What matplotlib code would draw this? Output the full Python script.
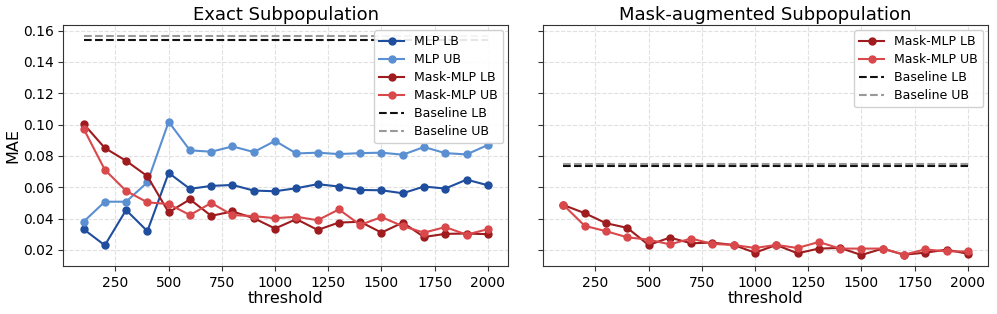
import matplotlib
matplotlib.use("Agg")
import matplotlib.pyplot as plt

thresholds = list(range(100, 2001, 100))

exact_mlp_lb = [0.0333, 0.0230, 0.0455, 0.0320, 0.0692, 0.0590, 0.0609, 0.0615, 0.0579, 0.0575,
                0.0594, 0.0620, 0.0605, 0.0583, 0.0581, 0.0562, 0.0605, 0.0592, 0.0649, 0.0613]
exact_mlp_ub = [0.0380, 0.0508, 0.0508, 0.0632, 0.1018, 0.0836, 0.0827, 0.0861, 0.0825, 0.0896,
                0.0816, 0.0821, 0.0812, 0.0818, 0.0821, 0.0808, 0.0857, 0.0818, 0.0810, 0.0870]
exact_mask_lb = [0.1005, 0.0851, 0.0769, 0.0671, 0.0440, 0.0523, 0.0418, 0.0446, 0.0403, 0.0337,
                 0.0397, 0.0328, 0.0375, 0.0380, 0.0311, 0.0375, 0.0283, 0.0303, 0.0305, 0.0301]
exact_mask_ub = [0.0975, 0.0712, 0.0577, 0.0504, 0.0493, 0.0423, 0.0500, 0.0423, 0.0416, 0.0403,
                 0.0412, 0.0390, 0.0459, 0.0360, 0.0410, 0.0352, 0.0311, 0.0346, 0.0298, 0.0333]
exact_base_lb = 0.1542
exact_base_ub = 0.1565

aug_mask_lb = [0.0487, 0.0435, 0.0371, 0.0341, 0.0232, 0.0279, 0.0243, 0.0247, 0.0232, 0.0183,
               0.0232, 0.0179, 0.0209, 0.0213, 0.0168, 0.0209, 0.0170, 0.0183, 0.0202, 0.0176]
aug_mask_ub = [0.0487, 0.0354, 0.0320, 0.0281, 0.0266, 0.0236, 0.0273, 0.0239, 0.0232, 0.0213,
               0.0232, 0.0213, 0.0251, 0.0209, 0.0209, 0.0209, 0.0170, 0.0204, 0.0191, 0.0191]
aug_base_lb = 0.0735
aug_base_ub = 0.0750

c_mlp_lb = "#1f4e9e"
c_mlp_ub = "#5a8fd2"
c_mask_lb = "#9e1b1e"
c_mask_ub = "#d9484b"

fig, axes = plt.subplots(1, 2, figsize=(9.97, 3.14), dpi=100, sharey=True)
fig.subplots_adjust(left=0.0635, right=0.991, bottom=0.153, top=0.920, wspace=0.079)

lw = 1.5
ms = 5

def style(ax, title):
    ax.set_title(title, fontsize=13, pad=4)
    ax.set_xlabel("threshold", fontsize=11.5, labelpad=1)
    ax.grid(True, linestyle="--", color="#e0e0e0", linewidth=0.8)
    ax.set_axisbelow(True)
    for s in ax.spines.values():
        s.set_color("#333333")
    ax.tick_params(labelsize=10, colors="#333333", labelcolor="black")
    ax.set_xticks([250, 500, 750, 1000, 1250, 1500, 1750, 2000])

def legend(ax):
    ax.legend(loc="upper right", fontsize=9, framealpha=0.9, labelspacing=0.4,
              borderaxespad=0.4)

ax = axes[0]
ax.plot(thresholds, exact_mlp_lb, "-o", color=c_mlp_lb, lw=lw, ms=ms, label="MLP LB")
ax.plot(thresholds, exact_mlp_ub, "-o", color=c_mlp_ub, lw=lw, ms=ms, label="MLP UB")
ax.plot(thresholds, exact_mask_lb, "-o", color=c_mask_lb, lw=lw, ms=ms, label="Mask-MLP LB")
ax.plot(thresholds, exact_mask_ub, "-o", color=c_mask_ub, lw=lw, ms=ms, label="Mask-MLP UB")
ax.plot(thresholds, [exact_base_lb] * len(thresholds), "--", color="#111111", lw=lw, label="Baseline LB")
ax.plot(thresholds, [exact_base_ub] * len(thresholds), "--", color="#999999", lw=lw, label="Baseline UB")
style(ax, "Exact Subpopulation")
ax.set_ylabel("MAE", fontsize=11.5, labelpad=2)
ax.set_yticks([0.02, 0.04, 0.06, 0.08, 0.10, 0.12, 0.14, 0.16])
legend(ax)

ax = axes[1]
ax.plot(thresholds, aug_mask_lb, "-o", color=c_mask_lb, lw=lw, ms=ms, label="Mask-MLP LB")
ax.plot(thresholds, aug_mask_ub, "-o", color=c_mask_ub, lw=lw, ms=ms, label="Mask-MLP UB")
ax.plot(thresholds, [aug_base_lb] * len(thresholds), "--", color="#111111", lw=lw, label="Baseline LB")
ax.plot(thresholds, [aug_base_ub] * len(thresholds), "--", color="#999999", lw=lw, label="Baseline UB")
style(ax, "Mask-augmented Subpopulation")
legend(ax)

fig.savefig("out.png", dpi=100)
